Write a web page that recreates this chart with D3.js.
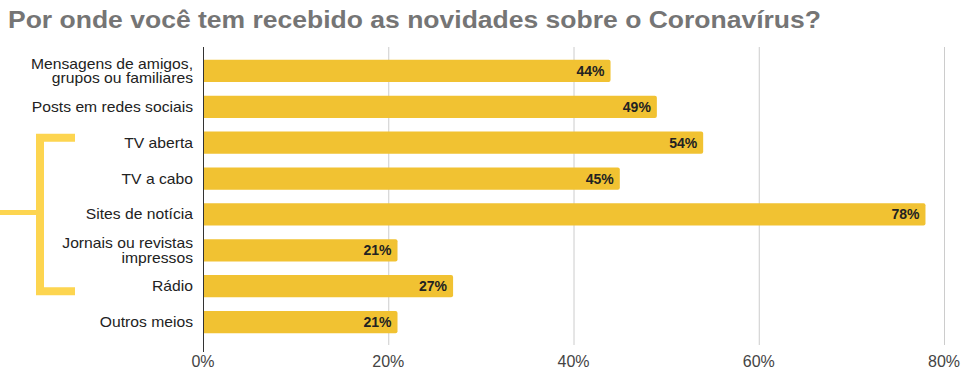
<!DOCTYPE html>
<html><head><meta charset="utf-8">
<script src="https://cdn.jsdelivr.net/npm/d3@7"></script>
<style>body{margin:0;background:#fff}svg{display:block}text{font-family:"Liberation Sans",Arial,sans-serif}</style>
</head><body><svg id="c" width="968" height="384"></svg>
<script>
const categories = [["Mensagens de amigos,","grupos ou familiares"],["Posts em redes sociais"],["TV aberta"],["TV a cabo"],["Sites de notícia"],["Jornais ou revistas","impressos"],["Rádio"],["Outros meios"]];
const values = [44,49,54,45,78,21,27,21];
const ticks = [0,20,40,60,80];
const title = "Por onde você tem recebido as novidades sobre o Coronavírus?";

const svg = d3.select("#c");
const x = d3.scaleLinear().domain([0,80]).range([203,944]);
const y = d3.scaleBand().domain(d3.range(values.length)).range([53,340]).paddingInner(0.38).paddingOuter(0.19);

svg.append("text").attr("x",8).attr("y",28).attr("font-size",24).attr("font-weight","bold").attr("fill","#757575")
 .attr("textLength",813).attr("lengthAdjust","spacingAndGlyphs").text(title);

// gridlines
svg.append("g").selectAll("line").data(ticks.slice(1)).join("line")
 .attr("x1",d=>x(d)+0.5).attr("x2",d=>x(d)+0.5).attr("y1",47).attr("y2",345)
 .attr("stroke","#cccccc").attr("stroke-width",1);

// bars
const bh = y.bandwidth();
svg.append("g").selectAll("path").data(values).join("path")
 .attr("d",(d,i)=>{const x0=x(0),x1=x(d),y0=y(i),r=2;return `M${x0},${y0}H${x1-r}Q${x1},${y0} ${x1},${y0+r}V${y0+bh-r}Q${x1},${y0+bh} ${x1-r},${y0+bh}H${x0}Z`;})
 .attr("fill","#f1c232");

// value labels
svg.append("g").selectAll("text").data(values).join("text")
 .attr("x",d=>x(d)-6).attr("y",(d,i)=>y(i)+bh/2+5)
 .attr("text-anchor","end").attr("font-size",14).attr("font-weight","bold").attr("fill","#222")
 .text(d=>d+"%");

// axis line
svg.append("line").attr("x1",x(0)+0.5).attr("x2",x(0)+0.5).attr("y1",47).attr("y2",352).attr("stroke","#333").attr("stroke-width",1);

// tick labels
svg.append("g").selectAll("text").data(ticks).join("text")
 .attr("x",d=>x(d)).attr("y",367).attr("text-anchor","middle").attr("font-size",16)
 .attr("font-family","Roboto, sans-serif").attr("fill","#444").text(d=>d+"%");

// category labels
const cl = svg.append("g").selectAll("text").data(categories).join("text")
 .attr("text-anchor","end").attr("font-size",14).attr("fill","#222")
 .attr("transform",(d,i)=>`translate(193,${y(i)+bh/2}) scale(1.12,1)`);
cl.each(function(lines,i){
  const t=d3.select(this); const lh=14.5;
  lines.forEach((l,j)=>{
    t.append("tspan").attr("x",0).attr("y",5+(j-(lines.length-1)/2)*lh).text(l);
  });
});

// bracket
const bc="#fdd550";
const yTop=y(2)+bh/2-9, yBot=y(6)+bh/2+5;
svg.append("path").attr("d",`M75,${yTop+4}H40V${yBot}H75`).attr("fill","none").attr("stroke",bc).attr("stroke-width",8);
svg.append("line").attr("x1",0).attr("x2",36).attr("y1",y(4)+bh/2-2).attr("y2",y(4)+bh/2-2).attr("stroke",bc).attr("stroke-width",5);
</script></body></html>
